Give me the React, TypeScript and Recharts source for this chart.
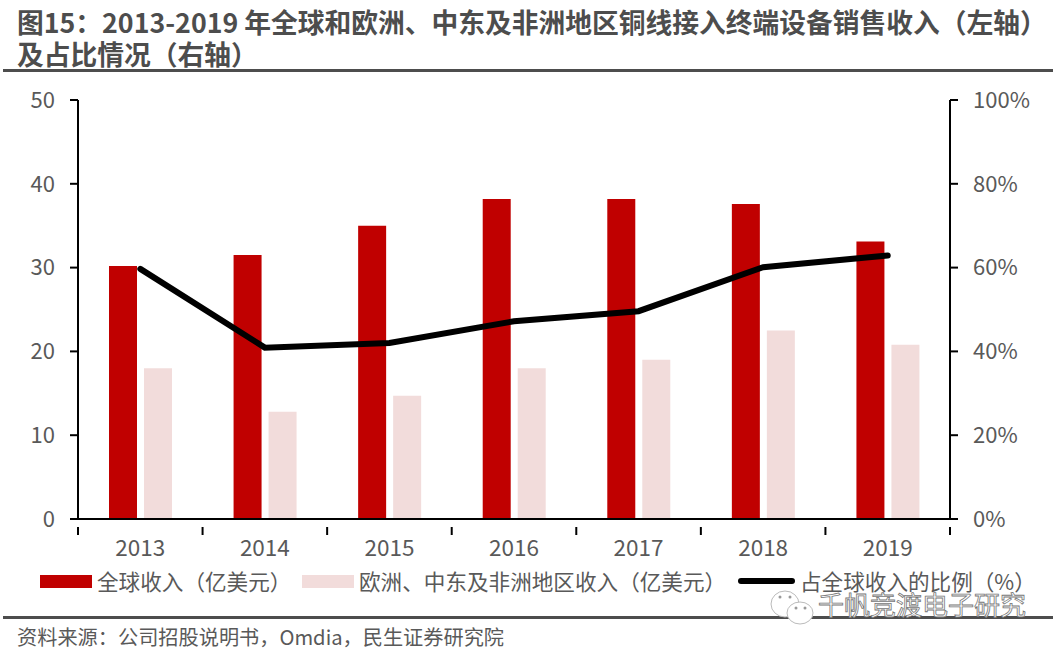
import React from "react";
import {
  ComposedChart,
  Bar,
  Line,
  XAxis,
  YAxis,
  Legend,
} from "recharts";

const years = ["2013", "2014", "2015", "2016", "2017", "2018", "2019"];
const globalRevenue = [30.2, 31.5, 35, 38.2, 38.2, 37.6, 33.1];
const emeaRevenue = [18, 12.8, 14.7, 18, 19, 22.5, 20.8];
const emeaShare = [59.7, 40.9, 42, 47.2, 49.6, 60.1, 62.9];
const leftTicks = [0, 10, 20, 30, 40, 50];
const rightTicks = [0, 20, 40, 60, 80, 100];

const chartData = years.map((year, i) => ({
  year,
  globalRevenue: globalRevenue[i],
  emeaRevenue: emeaRevenue[i],
  emeaShare: emeaShare[i],
}));

const FONT = '"Noto Sans CJK SC", "Noto Sans", sans-serif';
const TEXT = "#595959";
const RED = "#C00000";
const PINK = "#F2DCDB";

const XTick = ({ x, y, payload, index }: any) => {
  const half = 872 / years.length / 2;
  return (
    <g>
      <line x1={x - half} x2={x - half} y1={y} y2={y + 8} stroke="#000" strokeWidth={2} />
      {index === years.length - 1 && (
        <line x1={x + half} x2={x + half} y1={y} y2={y + 8} stroke="#000" strokeWidth={2} />
      )}
      <text x={x} y={y + 29} textAnchor="middle" fontSize={22.5} fill={TEXT} fontFamily={FONT}>
        {payload.value}
      </text>
    </g>
  );
};

const legendSlots: any = {
  globalRevenue: { left: 40, width: 52 },
  emeaRevenue: { left: 302, width: 52 },
  emeaShare: { left: 738, width: 57 },
};

const LegendRow = ({ payload }: any) => (
  <div style={{ position: "relative", height: 40 }}>
    {(payload || []).map((item: any) => {
      const slot = legendSlots[item.dataKey];
      const isLine = item.dataKey === "emeaShare";
      return (
        <div key={item.value}>
          <div
            style={{
              position: "absolute",
              left: slot.left,
              top: isLine ? 18 : 15,
              width: slot.width,
              height: isLine ? 6 : 13,
              borderRadius: isLine ? 3 : 0,
              background: item.color,
            }}
          />
          <div
            style={{
              position: "absolute",
              left: slot.left + slot.width + 5,
              top: 5,
              fontSize: 21.6,
              lineHeight: "32px",
              color: TEXT,
              whiteSpace: "nowrap",
              fontFamily: FONT,
            }}
          >
            {item.value}
          </div>
        </div>
      );
    })}
  </div>
);

const App = () => {
  return (
    <div
      style={{
        position: "absolute",
        left: 0,
        top: 0,
        width: 1059,
        height: 654,
        background: "#fff",
        overflow: "hidden",
        fontFamily: FONT,
      }}
    >
      <div
        style={{
          position: "absolute",
          left: 17,
          top: 6,
          fontSize: 26.76,
          lineHeight: "32px",
          fontWeight: 700,
          color: "#4D4D4D",
          whiteSpace: "nowrap",
        }}
      >
        图15：2013-2019 年全球和欧洲、中东及非洲地区铜线接入终端设备销售收入（左轴）
        <br />
        及占比情况（右轴）
      </div>
      <div style={{ position: "absolute", left: 3, top: 69, width: 1050, height: 3, background: "#4D4D4D" }} />

      <ComposedChart
        width={1059}
        height={654}
        data={chartData}
        barSize={28}
        barGap={7}
        margin={{ top: 100, right: 0, bottom: 0, left: 0 }}
        style={{ position: "absolute", left: 0, top: 0 }}
      >
        <XAxis
          dataKey="year"
          height={135}
          axisLine={{ stroke: "#000", strokeWidth: 2 }}
          tickLine={false}
          tick={<XTick />}
          interval={0}
        />
        <YAxis
          yAxisId="left"
          width={78}
          domain={[0, 50]}
          ticks={leftTicks}
          axisLine={{ stroke: "#000", strokeWidth: 2 }}
          tickLine={{ stroke: "#000", strokeWidth: 2 }}
          tickSize={8}
          tickMargin={15}
          tick={{ fill: TEXT, fontSize: 22, fontFamily: FONT }}
        />
        <YAxis
          yAxisId="right"
          orientation="right"
          width={109}
          domain={[0, 100]}
          ticks={rightTicks}
          tickFormatter={(v) => `${v}%`}
          axisLine={{ stroke: "#000", strokeWidth: 2 }}
          tickLine={{ stroke: "#000", strokeWidth: 2 }}
          tickSize={8}
          tickMargin={15}
          tick={{ fill: TEXT, fontSize: 22, fontFamily: FONT }}
        />
        <Legend
          layout="horizontal"
          verticalAlign="middle"
          wrapperStyle={{ position: "absolute", left: 0, top: 560, width: 1059, height: 40 }}
          content={<LegendRow />}
        />
        <Bar
          yAxisId="left"
          dataKey="globalRevenue"
          name="全球收入（亿美元）"
          fill={RED}
          isAnimationActive={false}
        />
        <Bar
          yAxisId="left"
          dataKey="emeaRevenue"
          name="欧洲、中东及非洲地区收入（亿美元）"
          fill={PINK}
          isAnimationActive={false}
        />
        <Line
          yAxisId="right"
          dataKey="emeaShare"
          name="占全球收入的比例（%）"
          stroke="#000"
          strokeWidth={6}
          strokeLinecap="round"
          dot={false}
          isAnimationActive={false}
        />
      </ComposedChart>

      <div style={{ position: "absolute", left: 3, top: 616, width: 1050, height: 3, background: "#4D4D4D" }} />
      <div
        style={{
          position: "absolute",
          left: 17,
          top: 622,
          fontSize: 20.2,
          lineHeight: "30px",
          color: TEXT,
          whiteSpace: "nowrap",
        }}
      >
        资料来源：公司招股说明书，Omdia，民生证券研究院
      </div>

      <svg width={1059} height={654} style={{ position: "absolute", left: 0, top: 0, pointerEvents: "none" }}>
        <ellipse cx={785} cy={604} rx={14} ry={13} fill="#fff" stroke="#bbb" strokeWidth={1} />
        <ellipse cx={800} cy={613} rx={13} ry={11} fill="#fff" stroke="#bbb" strokeWidth={1} />
        <circle cx={780} cy={597} r={1.5} fill="#999" />
        <circle cx={790} cy={597} r={1.5} fill="#999" />
        <circle cx={796} cy={608} r={1.5} fill="#999" />
        <circle cx={805} cy={608} r={1.5} fill="#999" />
        <text
          x={818}
          y={615}
          fontSize={26}
          fill="#fff"
          stroke="#777"
          strokeWidth={0.8}
          fontFamily={FONT}
        >
          千帆竞渡电子研究
        </text>
      </svg>
    </div>
  );
};

export default App;
